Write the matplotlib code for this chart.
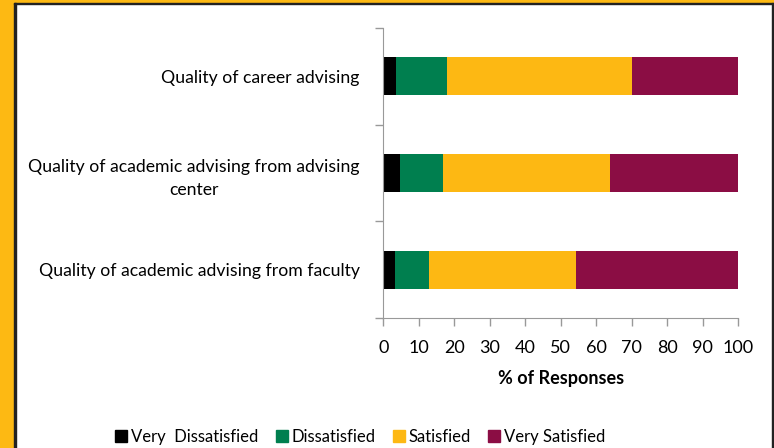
import matplotlib.pyplot as plt
from matplotlib.patches import Rectangle
from matplotlib.lines import Line2D
import numpy as np

# survey items, bottom to top
items = ['Quality of academic advising from faculty',
         'Quality of academic advising from advising\ncenter',
         'Quality of career advising']
very_dissatisfied = [3.3, 4.6, 3.6]
dissatisfied = [9.5, 12.3, 14.4]
satisfied = [41.5, 46.9, 52.0]
very_satisfied = [45.7, 36.2, 30.0]

series_names = ['Very  Dissatisfied', 'Dissatisfied', 'Satisfied', 'Very Satisfied']
colors = ['#000000', '#007F4F', '#FDB813', '#8B0D44']
x_ticks = list(range(0, 101, 10))

plt.rcParams['font.family'] = ['Lato', 'DejaVu Sans']

W, H = 774, 448
fig = plt.figure(figsize=(W / 100, H / 100), dpi=100)
fig.patch.set_facecolor('white')

# orange frame around the slide
def px_rect(x0, y0, x1, y1, color):
    fig.patches.append(Rectangle((x0 / W, 1 - y1 / H), (x1 - x0) / W, (y1 - y0) / H,
                                 transform=fig.transFigure, color=color, zorder=0))

px_rect(0, 0, 14, H, '#FDB913')
px_rect(0, 0, W, 3, '#FDB913')
px_rect(14, 3, 16, H, '#222222')
px_rect(14, 3, W, 4.5, '#222222')
px_rect(771.5, 3, 773, H, '#222222')

ax = fig.add_axes([383.3 / W, 1 - 318 / H, 355 / W, 290 / H])

ypos = np.arange(len(items))
data = [very_dissatisfied, dissatisfied, satisfied, very_satisfied]
left = np.zeros(len(items))
for vals, name, col in zip(data, series_names, colors):
    ax.barh(ypos, vals, left=left, height=0.39, color=col, label=name)
    left += np.array(vals)

ax.set_xlim(0, 100)
ax.set_ylim(-0.5, 2.5)
ax.set_xticks(x_ticks)
ax.set_xticklabels([str(t) for t in x_ticks], fontsize=13)
ax.set_yticks(ypos)
ax.set_yticklabels(items, fontsize=12.7, multialignment='center', linespacing=1.55)
ax.set_yticks([-0.5, 0.5, 1.5, 2.5], minor=True)
ax.tick_params(axis='y', which='major', length=0, pad=17)
ax.tick_params(axis='y', which='minor', length=6, color='#999999', width=1)
ax.tick_params(axis='x', length=6, color='#999999', width=1, pad=10)
ax.set_xlabel('% of Responses', fontsize=13, fontweight='bold', labelpad=10)

for s in ['top', 'right']:
    ax.spines[s].set_visible(False)
for s in ['left', 'bottom']:
    ax.spines[s].set_color('#999999')

handles = [Line2D([], [], marker='s', linestyle='', markersize=8,
                  markerfacecolor=c, markeredgecolor=c) for c in colors]
fig.legend(handles, series_names, loc='center', bbox_to_anchor=(360 / W, 1 - 437 / H),
           ncol=4, frameon=False, fontsize=12, handletextpad=0.2, columnspacing=1.0,
           handlelength=0.8)

fig.savefig('out.png', dpi=100)
